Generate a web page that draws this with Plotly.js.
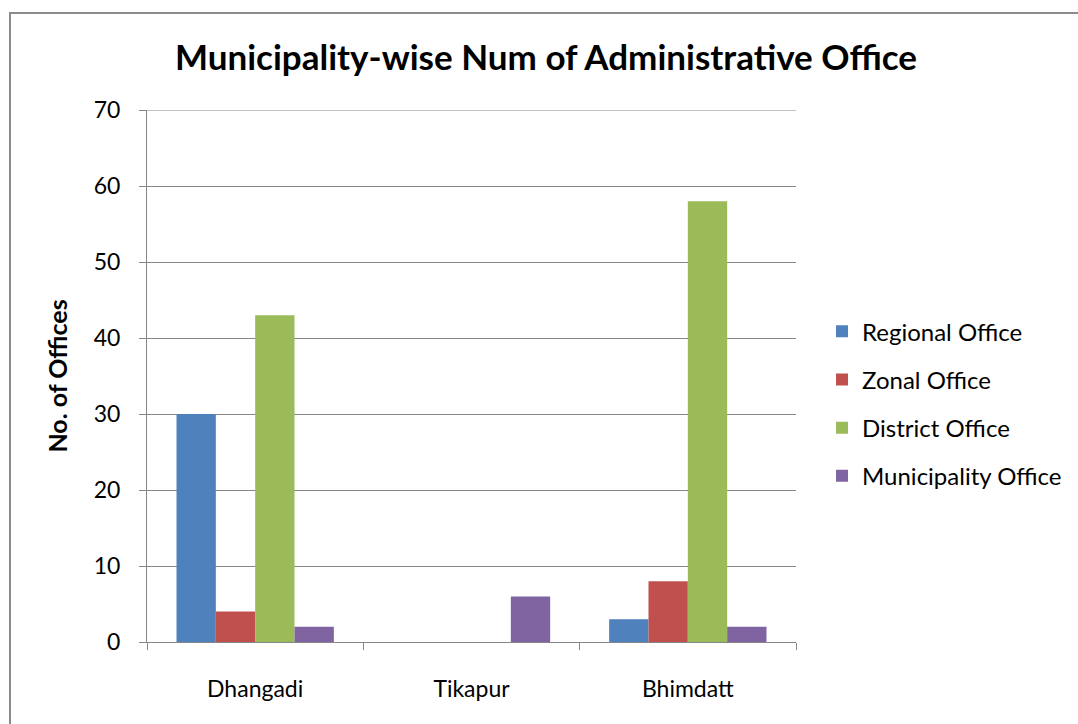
<!DOCTYPE html>
<html><head><meta charset="utf-8">
<script src="https://cdn.plot.ly/plotly-3.0.1.min.js"></script>
<style>
html,body{margin:0;padding:0;background:#fff;}
#chart{position:absolute;left:0;top:0;width:1078px;height:724px;}
#frame{position:absolute;left:9px;top:12px;width:1100px;height:800px;border:2px solid #8c8c8c;pointer-events:none;box-sizing:border-box;}
</style></head>
<body>
<div id="chart"></div>
<div id="frame"></div>
<script>
const categories = ["Dhangadi", "Tikapur", "Bhimdatt"];
const seriesNames = ["Regional Office", "Zonal Office", "District Office", "Municipality Office"];
const regional = [30, 0, 3];
const zonal = [4, 0, 8];
const district = [43, 0, 58];
const municipality = [2, 6, 2];
const yTicks = [0, 10, 20, 30, 40, 50, 60, 70];
const colors = ["#4F81BD", "#C0504D", "#9BBB59", "#8064A2"];
const values = [regional, zonal, district, municipality];
const FONT = "Lato, 'Open Sans', sans-serif";
const yMax = yTicks[yTicks.length - 1];

const traces = values.map((v, i) => ({
  type: "bar",
  name: seriesNames[i],
  x: categories,
  y: v,
  legendgroup: "g" + i,
  marker: {color: colors[i], line: {width: 0}}
}));

const layout = {
  width: 1078, height: 724,
  margin: {l: 147, r: 281, t: 110, b: 82},
  paper_bgcolor: "#fff", plot_bgcolor: "#fff",
  barmode: "group", bargap: 0.2727, bargroupgap: 0,
  font: {family: FONT, color: "#000", size: 23},
  title: {text: "<b>Municipality-wise Num of Administrative Office</b>",
          font: {family: FONT, size: 35, color: "#000"},
          xref: "container", x: 0.5065, xanchor: "center",
          yref: "container", y: 0.92, yanchor: "middle"},
  xaxis: {type: "category", showline: true, linecolor: "#868686", linewidth: 1,
          ticks: "outside", tickson: "boundaries", ticklen: 7, tickcolor: "#868686",
          showgrid: false, tickfont: {size: 23}, ticklabelstandoff: 26},
  yaxis: {range: [0, yMax], tickvals: yTicks, showline: true, linecolor: "#868686", linewidth: 1,
          ticks: "outside", ticklen: 7, tickcolor: "#868686",
          showgrid: true, gridcolor: "#868686", gridwidth: 1, zeroline: false,
          tickfont: {size: 23}, ticklabelstandoff: 14,
          title: {text: "<b>No. of Offices</b>", font: {size: 25}, standoff: 18}},
  shapes: [{type: "line", xref: "paper", x0: 0, x1: 1, yref: "y", y0: yMax, y1: yMax,
            line: {color: "#868686", width: 1}, layer: "below"}],
  legend: {x: 1.0385, xanchor: "left", y: 0.448, yanchor: "middle",
           font: {size: 24}, tracegroupgap: 14, bgcolor: "rgba(0,0,0,0)"},
  showlegend: true
};

Plotly.newPlot("chart", traces, layout, {displayModeBar: false, staticPlot: true});
</script>
</body></html>
